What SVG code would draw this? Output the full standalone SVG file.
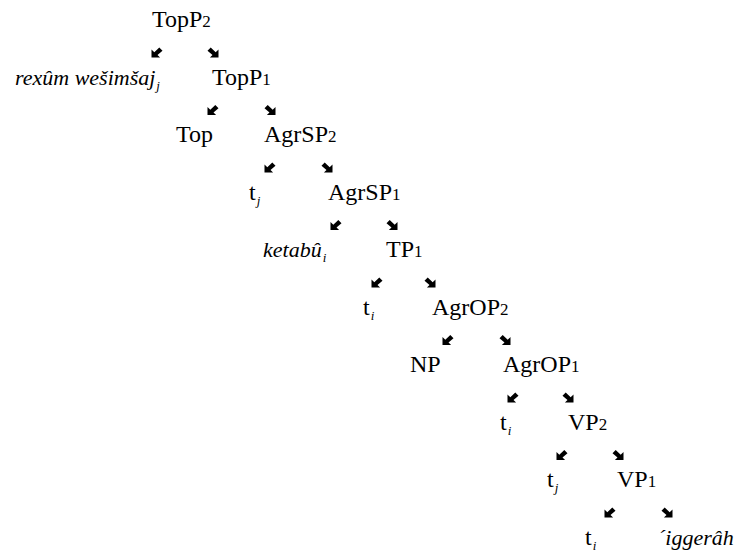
<svg xmlns="http://www.w3.org/2000/svg" width="734" height="555" viewBox="0 0 734 555">
<defs>
  <path id="dl" fill="#000" d="M0,10 L0,2 L2.8,4.8 L7.8,0 L11,3.2 L6,7.4 L8.6,10 Z"/>
  <path id="dr" fill="#000" d="M11,10 L11,2 L8.2,4.8 L3.2,0 L0,3.2 L5,7.4 L2.4,10 Z"/>
</defs>
<rect width="734" height="555" fill="#fff"/>
<g id="connectors">
  <use href="#dl" x="151.5" y="47.5"/><use href="#dr" x="207.5" y="47.5"/>
  <use href="#dl" x="207.5" y="105"/><use href="#dr" x="264.5" y="105"/>
  <use href="#dl" x="264.5" y="162.5"/><use href="#dr" x="321.5" y="162.5"/>
  <use href="#dl" x="330.5" y="220"/><use href="#dr" x="386.5" y="220"/>
  <use href="#dl" x="371.5" y="277.5"/><use href="#dr" x="424.5" y="277.5"/>
  <use href="#dl" x="442.5" y="335"/><use href="#dr" x="499.5" y="335"/>
  <use href="#dl" x="507.5" y="392.5"/><use href="#dr" x="562.5" y="392.5"/>
  <use href="#dl" x="556.5" y="450"/><use href="#dr" x="612.5" y="450"/>
  <use href="#dl" x="604.5" y="507.5"/><use href="#dr" x="661.5" y="507.5"/>
</g>
<g id="n-TopP2"><text font-family="Liberation Serif" font-size="24" x="152" y="27">TopP<tspan font-size="17">2</tspan></text></g>
<g id="n-rexum"><text font-family="Liberation Serif" font-size="22" font-style="italic" x="15" y="84.5">rexûm wešimšaj<tspan font-size="13" dx="1" dy="5">j</tspan></text></g>
<g id="n-TopP1"><text font-family="Liberation Serif" font-size="24" x="212" y="84.5">TopP<tspan font-size="17">1</tspan></text></g>
<g id="n-Top"><text font-family="Liberation Serif" font-size="24" x="176" y="142">Top</text></g>
<g id="n-AgrSP2"><text font-family="Liberation Serif" font-size="24" x="264" y="142">AgrSP<tspan font-size="17">2</tspan></text></g>
<g id="n-tj1"><text font-family="Liberation Serif" font-size="24" x="249" y="199.5">t<tspan font-size="13" font-style="italic" dx="1" dy="5">j</tspan></text></g>
<g id="n-AgrSP1"><text font-family="Liberation Serif" font-size="24" x="328" y="199.5">AgrSP<tspan font-size="17">1</tspan></text></g>
<g id="n-ketabu"><text font-family="Liberation Serif" font-size="22" font-style="italic" x="263" y="257">ketabû<tspan font-size="13" dx="1" dy="5">i</tspan></text></g>
<g id="n-TP1"><text font-family="Liberation Serif" font-size="24" x="386" y="257">TP<tspan font-size="17">1</tspan></text></g>
<g id="n-ti1"><text font-family="Liberation Serif" font-size="24" x="363" y="314.5">t<tspan font-size="13" font-style="italic" dx="1" dy="5">i</tspan></text></g>
<g id="n-AgrOP2"><text font-family="Liberation Serif" font-size="24" x="432" y="314.5">AgrOP<tspan font-size="17">2</tspan></text></g>
<g id="n-NP"><text font-family="Liberation Serif" font-size="24" x="410" y="372">NP</text></g>
<g id="n-AgrOP1"><text font-family="Liberation Serif" font-size="24" x="503" y="372">AgrOP<tspan font-size="17">1</tspan></text></g>
<g id="n-ti2"><text font-family="Liberation Serif" font-size="24" x="500" y="429.5">t<tspan font-size="13" font-style="italic" dx="1" dy="5">i</tspan></text></g>
<g id="n-VP2"><text font-family="Liberation Serif" font-size="24" x="568" y="429.5">VP<tspan font-size="17">2</tspan></text></g>
<g id="n-tj2"><text font-family="Liberation Serif" font-size="24" x="547" y="487">t<tspan font-size="13" font-style="italic" dx="1" dy="5">j</tspan></text></g>
<g id="n-VP1"><text font-family="Liberation Serif" font-size="24" x="617" y="487">VP<tspan font-size="17">1</tspan></text></g>
<g id="n-ti3"><text font-family="Liberation Serif" font-size="24" x="585" y="544.5">t<tspan font-size="13" font-style="italic" dx="1" dy="5">i</tspan></text></g>
<g id="n-iggerah"><text font-family="Liberation Serif" font-size="22" font-style="italic" x="658" y="544.5">´iggerâh</text></g>
</svg>
